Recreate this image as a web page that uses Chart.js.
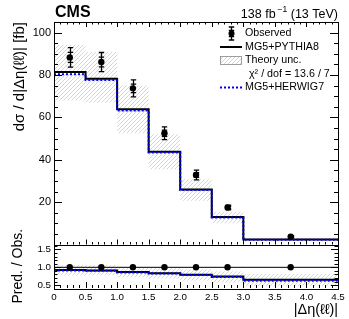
<!DOCTYPE html>
<html>
<head>
<meta charset="utf-8">
<script src="https://cdn.jsdelivr.net/npm/chart.js"></script>
<style>
  html, body { margin: 0; padding: 0; background: #fff; }
  #wrap { position: relative; width: 349px; height: 319px; }
  #wrap canvas { position: absolute; left: 0; top: 0; }
</style>
</head>
<body>
<div id="wrap">
  <canvas id="main" width="349" height="319"></canvas>
  <canvas id="ratio" width="349" height="319"></canvas>
</div>
<script>
// bins of |delta eta(ll)|
const binEdges = [0, 0.5, 1, 1.5, 2, 2.5, 3, 4.5];
const binCenters = [0.25, 0.75, 1.25, 1.75, 2.25, 2.75, 3.75];

// measured cross section [fb] with stat and total uncertainties
const observed = [88.3, 86.1, 73.7, 52.5, 32.8, 17.5, 3.7];
const obsStat = [2.4, 2.3, 2.0, 1.5, 1.1, 0.5, 0.2];
const obsTotal = [4.6, 4.5, 4.0, 3.0, 2.3, 1.1, 0.5];

// predictions
const pythia8 = [81.4, 78.2, 63.8, 43.8, 26.0, 13.0, 2.4];
const herwig7 = [80.3, 77.6, 63.2, 43.4, 25.7, 12.8, 2.3];
const theoryUp = [94.3, 90.8, 75.0, 52.0, 30.8, 15.5, 3.0];
const theoryDown = [68.0, 67.0, 52.5, 35.5, 20.7, 10.0, 1.8];

const yTicksMain = [20, 40, 60, 80, 100];
const yTicksRatio = [0.5, 1, 1.5];
const xTicks = [0, 0.5, 1, 1.5, 2, 2.5, 3, 3.5, 4, 4.5];

const FONT = "'Liberation Sans', Arial, Helvetica, sans-serif";

// turn per-bin values into step points
function steps(vals) {
  const pts = vals.map((v, i) => ({ x: binEdges[i], y: v }));
  pts.push({ x: binEdges[binEdges.length - 1], y: vals[vals.length - 1] });
  return pts;
}
const toRatio = vals => vals.map((v, i) => v / observed[i]);

function hatch() {
  const c = document.createElement('canvas');
  c.width = c.height = 4;
  const g = c.getContext('2d');
  g.strokeStyle = '#c4c4c4';
  g.lineWidth = 0.7;
  g.beginPath();
  g.moveTo(0, 4); g.lineTo(4, 0);
  g.moveTo(-1, 1); g.lineTo(1, -1);
  g.moveTo(3, 5); g.lineTo(5, 3);
  g.stroke();
  return g.createPattern(c, 'repeat');
}
const hatchFill = hatch();

// ROOT style inward ticks on all sides + frame
function tickPlugin(cfg) {
  return {
    id: 'rootTicks',
    afterDraw(chart) {
      const { ctx, chartArea: a, scales: { x, y } } = chart;
      ctx.save();
      ctx.strokeStyle = '#000';
      ctx.lineWidth = 1;
      ctx.beginPath();
      for (let k = 0; k <= 45; k++) {
        const px = Math.round(x.getPixelForValue(k * 0.1)) + 0.5;
        const len = k % 5 === 0 ? cfg.xMajor : cfg.xMinor;
        if (cfg.bottomTicks) { ctx.moveTo(px, a.bottom); ctx.lineTo(px, a.bottom - len); }
        if (cfg.topTicks) { ctx.moveTo(px, a.top); ctx.lineTo(px, a.top + len); }
      }
      for (let v = cfg.yStart; v <= y.max + 1e-9; v += cfg.yStep) {
        const py = Math.round(y.getPixelForValue(v)) + 0.5;
        if (py < a.top || py > a.bottom) continue;
        const major = Math.abs(v / cfg.yMajorEvery - Math.round(v / cfg.yMajorEvery)) < 1e-6;
        const len = major ? cfg.yMajor : cfg.yMinor;
        ctx.moveTo(a.left, py); ctx.lineTo(a.left + len, py);
        ctx.moveTo(a.right, py); ctx.lineTo(a.right - len, py);
      }
      ctx.stroke();
      ctx.strokeRect(Math.round(a.left) + 0.5, Math.round(a.top) + 0.5,
        Math.round(a.right - a.left), Math.round(a.bottom - a.top));
      ctx.restore();
    }
  };
}

function drawErrorBar(ctx, px, yStatLo, yStatHi, yTotLo, yTotHi) {
  ctx.beginPath();
  ctx.moveTo(px, yTotLo); ctx.lineTo(px, yTotHi);
  for (const t of [yStatLo, yStatHi, yTotLo, yTotHi]) {
    ctx.moveTo(px - 2.7, t); ctx.lineTo(px + 2.7, t);
  }
  ctx.stroke();
}

const errorBars = {
  id: 'errorBars',
  afterDatasetsDraw(chart) {
    const { ctx, scales: { x, y } } = chart;
    ctx.save();
    ctx.strokeStyle = '#000';
    ctx.lineWidth = 1.3;
    binCenters.forEach((c, i) => {
      const px = Math.round(x.getPixelForValue(c)) + 0.5;
      drawErrorBar(ctx, px,
        y.getPixelForValue(observed[i] - obsStat[i]), y.getPixelForValue(observed[i] + obsStat[i]),
        y.getPixelForValue(observed[i] - obsTotal[i]), y.getPixelForValue(observed[i] + obsTotal[i]));
    });
    ctx.restore();
  }
};

const labelsAndLegend = {
  id: 'labelsAndLegend',
  afterDraw(chart) {
    const ctx = chart.ctx;
    ctx.save();
    ctx.fillStyle = '#000';
    ctx.textBaseline = 'alphabetic';
    ctx.font = 'bold 16px ' + FONT;
    ctx.textAlign = 'left';
    ctx.fillText('CMS', 55, 17);

    // lumi label with superscript
    const main1 = '138 fb', sup = '\u22121', main2 = ' (13 TeV)';
    ctx.font = '12.5px ' + FONT;
    const w1 = ctx.measureText(main1).width, w2 = ctx.measureText(main2).width;
    ctx.font = '8.5px ' + FONT;
    const ws = ctx.measureText(sup).width;
    let xs = 338 - w1 - ws - w2 - 2;
    ctx.font = '12.5px ' + FONT;
    ctx.fillText(main1, xs, 18);
    ctx.font = '8.5px ' + FONT;
    ctx.fillText(sup, xs + w1 + 2, 12);
    ctx.font = '12.5px ' + FONT;
    ctx.fillText(main2, xs + w1 + 2 + ws, 18);

    // legend
    ctx.font = '10.7px ' + FONT;
    ctx.textBaseline = 'middle';
    const tx = 245;
    ctx.fillText('Observed', tx, 33.5);
    ctx.fillText('MG5+PYTHIA8', tx, 47);
    ctx.fillText('Theory unc.', tx, 60.5);
    ctx.fillText('\u03c7\u00b2 / dof = 13.6 / 7', 249, 74);
    ctx.fillText('MG5+HERWIG7', tx, 87.5);

    ctx.strokeStyle = '#000';
    ctx.lineWidth = 1.3;
    drawErrorBar(ctx, 231.5, 36.5, 30.5, 40, 27);
    ctx.beginPath(); ctx.arc(231.5, 33.5, 3, 0, Math.PI * 2); ctx.fill();

    ctx.lineWidth = 2;
    ctx.beginPath(); ctx.moveTo(220, 47); ctx.lineTo(242, 47); ctx.stroke();

    ctx.fillStyle = hatchFill;
    ctx.fillRect(220, 56.5, 22, 8);
    ctx.lineWidth = 0.8;
    ctx.strokeStyle = '#888';
    ctx.strokeRect(220.5, 56.5, 21, 8);

    ctx.strokeStyle = '#0000ff';
    ctx.lineWidth = 2;
    ctx.setLineDash([2, 2]);
    ctx.beginPath(); ctx.moveTo(220, 87.5); ctx.lineTo(242, 87.5); ctx.stroke();
    ctx.restore();
  }
};

const xScale = (display) => ({
  type: 'linear', min: 0, max: 4.5, display: display,
  grid: { display: false, drawTicks: false },
  border: { display: false },
  afterBuildTicks: s => { s.ticks = xTicks.map(v => ({ value: v })); },
  ticks: { color: '#000', padding: 3, maxRotation: 0, autoSkip: false, font: { family: FONT, size: 9.8 } },
  title: { display: display, text: '|\u0394\u03b7(\u2113\u2113)|', align: 'end', color: '#000',
    padding: { top: 0, bottom: 0 }, font: { family: FONT, size: 14.5 } },
  afterFit: s => { s.height = display ? 31 : 0; }
});

const stepLine = (data, color, dash, order) => ({
  data: data, stepped: true, borderColor: color, borderWidth: 2, borderDash: dash,
  pointRadius: 0, fill: false, order: order, tension: 0
});

new Chart(document.getElementById('main'), {
  type: 'line',
  data: {
    datasets: [
      { data: steps(theoryUp), stepped: true, borderWidth: 0, pointRadius: 0, fill: false, order: 3 },
      { data: steps(theoryDown), stepped: true, borderWidth: 0, pointRadius: 0, fill: '-1',
        backgroundColor: hatchFill, order: 3 },
      stepLine(steps(pythia8), '#000', [], 2),
      stepLine(steps(herwig7), '#0000ff', [2, 2], 1),
      { data: binCenters.map((c, i) => ({ x: c, y: observed[i] })), showLine: false,
        pointRadius: 3.2, pointBackgroundColor: '#000', pointBorderWidth: 0, order: 0 }
    ]
  },
  options: {
    responsive: false, animation: false,
    layout: { padding: { top: 22, right: 11, bottom: 74.5, left: 0 } },
    plugins: { legend: { display: false }, tooltip: { enabled: false } },
    scales: {
      x: xScale(false),
      y: {
        type: 'linear', min: 0, max: 105,
        grid: { display: false, drawTicks: false },
        border: { display: false },
        afterBuildTicks: s => { s.ticks = yTicksMain.map(v => ({ value: v })); },
        ticks: { color: '#000', padding: 3, font: { family: FONT, size: 11 } },
        title: { display: true, text: 'd\u03c3 / d|\u0394\u03b7(\u2113\u2113)| [fb]', align: 'end', color: '#000',
          padding: { top: 11, bottom: 0 }, font: { family: FONT, size: 15 } },
        afterFit: s => { s.width = 54; }
      }
    }
  },
  plugins: [errorBars, labelsAndLegend,
    tickPlugin({ xMajor: 5, xMinor: 2.5, bottomTicks: true, topTicks: true,
      yStart: 0, yStep: 5, yMajorEvery: 20, yMajor: 8, yMinor: 4 })]
});

new Chart(document.getElementById('ratio'), {
  type: 'line',
  data: {
    datasets: [
      { data: steps(toRatio(theoryUp)), stepped: true, borderWidth: 0, pointRadius: 0, fill: false, order: 4 },
      { data: steps(toRatio(theoryDown)), stepped: true, borderWidth: 0, pointRadius: 0, fill: '-1',
        backgroundColor: hatchFill, order: 4 },
      stepLine(steps(toRatio(pythia8)), '#000', [], 2),
      stepLine(steps(toRatio(herwig7)), '#0000ff', [2, 2], 1),
      { data: [{ x: 0, y: 1 }, { x: 4.5, y: 1 }], borderColor: '#000', borderWidth: 1, pointRadius: 0, order: 3 },
      { data: binCenters.map(c => ({ x: c, y: 1 })), showLine: false,
        pointRadius: 3.2, pointBackgroundColor: '#000', pointBorderWidth: 0, order: 0 }
    ]
  },
  options: {
    responsive: false, animation: false,
    layout: { padding: { top: 244.5, right: 11, bottom: 0, left: 0 } },
    plugins: { legend: { display: false }, tooltip: { enabled: false } },
    scales: {
      x: xScale(true),
      y: {
        type: 'linear', min: 0.42, max: 1.64,
        grid: { display: false, drawTicks: false },
        border: { display: false },
        afterBuildTicks: s => { s.ticks = yTicksRatio.map(v => ({ value: v })); },
        ticks: { color: '#000', padding: 3, font: { family: FONT, size: 9.8 } },
        title: { display: true, text: 'Pred. / Obs.', align: 'center', color: '#000',
          padding: { top: 10, bottom: 0 }, font: { family: FONT, size: 14 } },
        afterFit: s => { s.width = 54; }
      }
    }
  },
  plugins: [tickPlugin({ xMajor: 6, xMinor: 3, bottomTicks: true, topTicks: false,
    yStart: 0.5, yStep: 0.1, yMajorEvery: 0.5, yMajor: 7, yMinor: 3.5 })]
});
</script>
</body>
</html>
